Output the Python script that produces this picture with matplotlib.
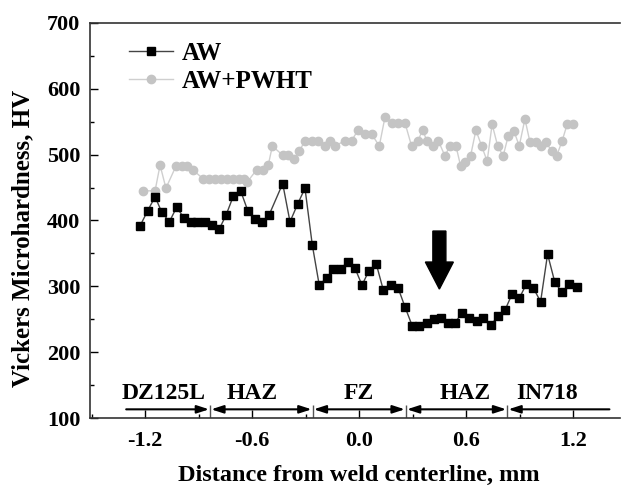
import numpy as np
import matplotlib.pyplot as plt
from matplotlib.ticker import MultipleLocator

# data
aw_x = [-1.229, -1.186, -1.145, -1.108, -1.065, -1.024, -0.983, -0.945, -0.908, -0.865,
        -0.824, -0.785, -0.747, -0.706, -0.665, -0.625, -0.584, -0.543, -0.506, -0.429,
        -0.388, -0.345, -0.304, -0.263, -0.224, -0.182, -0.145, -0.104, -0.064, -0.024,
        0.016, 0.055, 0.096, 0.135, 0.177, 0.218, 0.257, 0.298, 0.337, 0.379,
        0.420, 0.459, 0.498, 0.537, 0.578, 0.617, 0.659, 0.696, 0.738, 0.778,
        0.818, 0.857, 0.898, 0.937, 0.976, 1.018, 1.057, 1.098, 1.139, 1.178, 1.220]
aw_hv = [392, 415, 436, 413, 398, 420, 404, 398, 398, 398,
         393, 387, 408, 437, 445, 415, 403, 398, 408, 456,
         398, 425, 449, 363, 302, 313, 327, 327, 337, 328,
         302, 324, 334, 295, 302, 298, 269, 240, 240, 245,
         250, 252, 245, 245, 260, 252, 248, 252, 241, 255,
         264, 288, 282, 303, 298, 277, 349, 306, 291, 303, 299]

pw_x = [-1.211, -1.145, -1.117, -1.084, -1.027, -0.996, -0.964, -0.934, -0.874, -0.842,
        -0.809, -0.775, -0.742, -0.708, -0.674, -0.646, -0.629, -0.575, -0.538, -0.510,
        -0.487, -0.429, -0.398, -0.364, -0.336, -0.304, -0.266, -0.229, -0.192, -0.164,
        -0.136, -0.080, -0.042, -0.005, 0.033, 0.070, 0.113, 0.145, 0.182, 0.219,
        0.257, 0.294, 0.331, 0.356, 0.379, 0.416, 0.444, 0.481, 0.509, 0.543,
        0.569, 0.593, 0.625, 0.655, 0.687, 0.718, 0.746, 0.777, 0.808, 0.836,
        0.868, 0.898, 0.930, 0.958, 0.990, 1.018, 1.048, 1.080, 1.108, 1.139,
        1.167, 1.197]
pw_hv = [445, 445, 484, 449, 483, 483, 483, 477, 463, 463,
         463, 463, 463, 463, 463, 463, 458, 477, 477, 484,
         513, 499, 499, 494, 505, 521, 521, 521, 513, 521,
         513, 521, 521, 538, 531, 531, 513, 557, 548, 548,
         548, 513, 521, 538, 521, 513, 521, 498, 513, 513,
         483, 489, 498, 537, 513, 490, 546, 513, 498, 528,
         536, 513, 554, 519, 519, 513, 519, 505, 498, 521,
         546, 546]

zone_names = ['DZ125L', 'HAZ', 'FZ', 'HAZ', 'IN718']
zone_bounds = [-1.313, -0.836, -0.261, 0.262, 0.831, 1.410]
zone_label_x = [-1.095, -0.603, 0.0, 0.593, 1.052]

plt.rcParams['font.family'] = ['Liberation Serif', 'DejaVu Serif']
plt.rcParams['font.weight'] = 'bold'

fig = plt.figure(figsize=(6.22, 4.86), dpi=100)
ax = fig.add_axes([0.1447, 0.1393, 0.852, 0.814])

ax.plot(pw_x, pw_hv, '-o', color='#cfcfcf', mfc='#c4c4c4', mec='#c4c4c4',
        ms=6, lw=1.0, label='AW+PWHT', zorder=2)
ax.plot(aw_x, aw_hv, '-s', color='#444444', mfc='black', mec='black',
        ms=5.5, lw=1.0, label='AW', zorder=3)

# big down arrow
ax.arrow(0.45, 384, 0, -88, width=0.073, head_width=0.157, head_length=41,
         length_includes_head=True, color='black', zorder=4)

# zone arrows along the bottom
y_arr = 113.6
for i in range(len(zone_names)):
    a, b = zone_bounds[i], zone_bounds[i + 1]
    if i == 0:
        style = '<|-'
    elif i == len(zone_names) - 1:
        style = '-|>'
    else:
        style = '<|-|>'
    ax.annotate('', xy=(a + 0.006, y_arr), xytext=(b - 0.006, y_arr),
                arrowprops=dict(arrowstyle=style + ',head_length=0.4,head_width=0.13',
                                color='black', lw=1.5, shrinkA=0, shrinkB=0,
                                mutation_scale=18))
    ax.text(zone_label_x[i], 137, zone_names[i], ha='center', va='center',
            fontsize=17, fontweight='bold')
ax.vlines(zone_bounds[1:-1], 100, 120, color='#555555', lw=1.0)

ax.set_xlim(-1.51, 1.463)
ax.set_ylim(100, 700)
ax.set_xticks([-1.2, -0.6, 0.0, 0.6, 1.2])
ax.set_xticklabels(['-1.2', '-0.6', '0.0', '0.6', '1.2'])
ax.xaxis.set_minor_locator(MultipleLocator(0.3))
ax.yaxis.set_major_locator(MultipleLocator(100))
ax.yaxis.set_minor_locator(MultipleLocator(50))
ax.tick_params(which='major', direction='in', length=6, width=1.0, labelsize=16, pad=7)
ax.tick_params(axis='x', which='major', pad=9)
ax.tick_params(which='minor', direction='in', length=3, width=1.0)
ax.tick_params(top=False, right=False, which='both')

ax.spines['right'].set_visible(False)
for s in ['left', 'bottom', 'top']:
    ax.spines[s].set_linewidth(1.2)
    ax.spines[s].set_color('#333333')

ax.set_xlabel('Distance from weld centerline, mm', fontsize=17.5, fontweight='bold')
ax.set_ylabel('Vickers Microhardness, HV', fontsize=18, fontweight='bold')
ax.xaxis.set_label_coords(0.5075, -0.118)
ax.yaxis.set_label_coords(-0.105, 0.455)

handles, labels = ax.get_legend_handles_labels()
ax.legend(handles[::-1], labels[::-1], loc='upper left', frameon=False,
          prop={'weight': 'bold', 'size': 18},
          bbox_to_anchor=(0.045, 0.99), handlelength=1.75, handletextpad=0.35,
          labelspacing=0.2, borderaxespad=0.2)

fig.savefig('out.png', dpi=100)
